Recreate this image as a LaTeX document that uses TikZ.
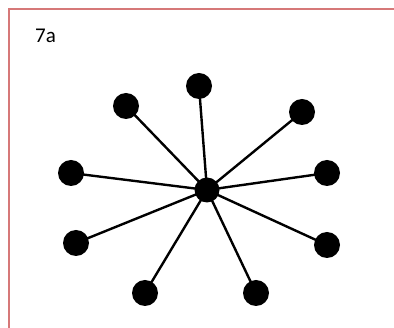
\documentclass[tikz,border=0pt]{standalone}
\usepackage{fontspec}
\setmainfont{Carlito}

\begin{document}
\begin{tikzpicture}[
  x=1pt, y=-1pt,
  dot/.style={circle, fill=black, inner sep=0pt, minimum size=26pt},
  hubdot/.style={circle, fill=black, inner sep=0pt, minimum size=25pt},
  spoke/.style={line width=2.4pt}
]
\useasboundingbox (0,0) rectangle (394,328);
\draw[line width=2pt, color={rgb,255:red,214;green,120;blue,120}]
  (394,9) -- (9,9) -- (9,328);
\node[anchor=base west, font=\fontsize{21}{21}\selectfont, inner sep=0pt]
  (title) at (35,43) {7a};
\node[hubdot] (hub) at (207,190) {};
\node[dot] (n)  at (199,86)  {};
\node[dot] (nw) at (126,106) {};
\node[dot] (ne) at (302,112) {};
\node[dot] (w)  at (71,173)  {};
\node[dot] (e)  at (327,173) {};
\node[dot] (sw) at (76,243)  {};
\node[dot] (se) at (327,245) {};
\node[dot] (ssw) at (145,293) {};
\node[dot] (sse) at (256,293) {};
\draw[spoke] (hub.center) -- (n.center);
\draw[spoke] (hub.center) -- (nw.center);
\draw[spoke] (hub.center) -- (ne.center);
\draw[spoke] (hub.center) -- (w.center);
\draw[spoke] (hub.center) -- (e.center);
\draw[spoke] (hub.center) -- (sw.center);
\draw[spoke] (hub.center) -- (se.center);
\draw[spoke] (hub.center) -- (ssw.center);
\draw[spoke] (hub.center) -- (sse.center);
\end{tikzpicture}
\end{document}
